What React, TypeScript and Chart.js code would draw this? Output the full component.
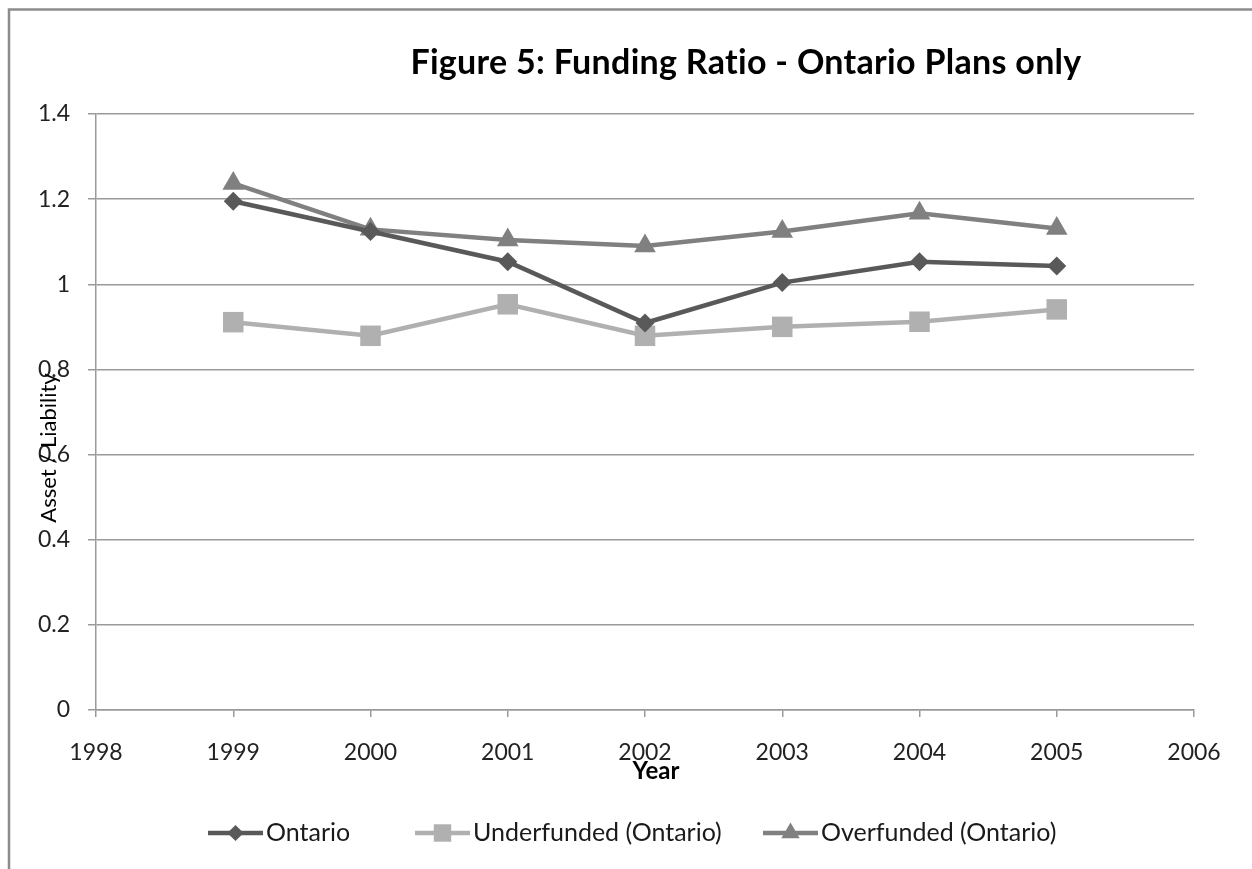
import React, { useEffect, useRef } from "react";
import { Chart, registerables } from "chart.js";
import { drawPoint } from "chart.js/helpers";

Chart.register(...registerables);

const years = [1999, 2000, 2001, 2002, 2003, 2004, 2005];
const ontario = [1.195, 1.124, 1.053, 0.909, 1.004, 1.053, 1.043];
const underfunded = [0.911, 0.879, 0.953, 0.879, 0.900, 0.912, 0.941];
const overfunded = [1.237, 1.129, 1.104, 1.090, 1.124, 1.167, 1.131];

const seriesNames = ["Ontario", "Underfunded (Ontario)", "Overfunded (Ontario)"];
const seriesColors = ["#595959", "#b0b0b0", "#808080"];
const seriesStyles = ["rectRot", "rect", "triangle"] as const;
const seriesRadius = [9.5, 14.5, 12.5];

const titleText = "Figure 5: Funding Ratio - Ontario Plans only";
const xTitle = "Year";
const yTitle = "Asset / Liability";

const FONT = "Lato, 'Open Sans', sans-serif";

const decor = {
  id: "decor",
  beforeDraw(chart: any) {
    const ctx = chart.ctx;
    ctx.save();
    ctx.fillStyle = "#ffffff";
    ctx.fillRect(0, 0, chart.width, chart.height);
    ctx.strokeStyle = "#8c8c8c";
    ctx.lineWidth = 2.5;
    ctx.beginPath();
    ctx.moveTo(9, chart.height);
    ctx.lineTo(9, 9.5);
    ctx.lineTo(chart.width, 9.5);
    ctx.stroke();
    ctx.restore();
  },
  afterDraw(chart: any) {
    const ctx = chart.ctx;
    ctx.save();
    // title
    ctx.fillStyle = "#000000";
    (ctx as any).letterSpacing = "0.3px";
    ctx.font = `bold 34px ${FONT}`;
    ctx.textAlign = "center";
    ctx.textBaseline = "alphabetic";
    ctx.fillText(titleText, 746, 74);
    (ctx as any).letterSpacing = "0px";
    // x title
    ctx.font = `bold 24px ${FONT}`;
    ctx.fillText(xTitle, 656, 779);
    // y title
    ctx.save();
    ctx.translate(56, 448);
    ctx.rotate(-Math.PI / 2);
    ctx.font = `22px ${FONT}`;
    ctx.textBaseline = "alphabetic";
    ctx.fillText(yTitle, 0, 0);
    ctx.restore();
    // legend
    const starts = [208, 415, 763];
    const ly = 833;
    chart.data.datasets.forEach((ds: any, i: number) => {
      const x0 = starts[i];
      ctx.strokeStyle = ds.borderColor;
      ctx.lineWidth = 4.5;
      ctx.beginPath();
      ctx.moveTo(x0, ly);
      ctx.lineTo(x0 + 55, ly);
      ctx.stroke();
      ctx.fillStyle = ds.borderColor;
      ctx.strokeStyle = ds.borderColor;
      const r = ds.pointRadius * 0.85;
      drawPoint(ctx, { pointStyle: ds.pointStyle, radius: r, rotation: 0, borderWidth: 0 } as any, x0 + 27.5, ly);
      ctx.fillStyle = "#1a1a1a";
      ctx.font = `25px ${FONT}`;
      ctx.textAlign = "left";
      ctx.textBaseline = "middle";
      ctx.fillText(ds.label, x0 + 58, ly);
    });
    ctx.restore();
  },
};

export default function App() {
  const ref = useRef<HTMLCanvasElement | null>(null);
  useEffect(() => {
    if (!ref.current) return;
    const mk = (vals: number[]) => years.map((y, i) => ({ x: y, y: vals[i] }));
    const all = [ontario, underfunded, overfunded];
    const chart = new Chart(ref.current, {
      type: "line",
      data: {
        datasets: all.map((vals, i) => ({
          label: seriesNames[i],
          data: mk(vals),
          borderColor: seriesColors[i],
          backgroundColor: seriesColors[i],
          pointBackgroundColor: seriesColors[i],
          pointBorderColor: seriesColors[i],
          pointBorderWidth: 0,
          pointStyle: seriesStyles[i] as any,
          pointRadius: seriesRadius[i],
          pointHoverRadius: seriesRadius[i],
          borderWidth: 4.5,
          tension: 0,
          fill: false,
        })),
      },
      options: {
        animation: false,
        responsive: false,
        maintainAspectRatio: false,
        devicePixelRatio: 1,
        layout: { padding: { top: 114, right: 58, left: 0, bottom: 0 } },
        plugins: {
          legend: { display: false },
          title: { display: false },
          tooltip: { enabled: false },
        },
        scales: {
          x: {
            type: "linear",
            min: 1998,
            max: 2006,
            afterFit: (s: any) => { s.height = 159; },
            ticks: {
              stepSize: 1,
              padding: 22,
              color: "#222222",
              font: { family: FONT, size: 23 },
              callback: (v: any) => String(v),
            },
            grid: { drawOnChartArea: false, drawTicks: true, tickLength: 7, color: "#9a9a9a", lineWidth: 1.5 },
            border: { display: true, color: "#9a9a9a", width: 1.5 },
          },
          y: {
            min: 0,
            max: 1.4,
            afterFit: (s: any) => { s.width = 96; },
            ticks: {
              stepSize: 0.2,
              padding: 18,
              color: "#222222",
              font: { family: FONT, size: 23 },
              callback: (v: any) => String(Number(Number(v).toFixed(1))),
            },
            grid: { drawOnChartArea: true, drawTicks: true, tickLength: 8, color: "#9a9a9a", lineWidth: 1.5 },
            border: { display: true, color: "#9a9a9a", width: 1.5 },
          },
        },
      },
      plugins: [decor],
    });
    return () => chart.destroy();
  }, []);
  return (
    <div style={{ position: "absolute", left: 0, top: 0, width: 1252, height: 869 }}>
      <canvas ref={ref} width={1252} height={869} style={{ width: 1252, height: 869, display: "block" }} />
    </div>
  );
}
